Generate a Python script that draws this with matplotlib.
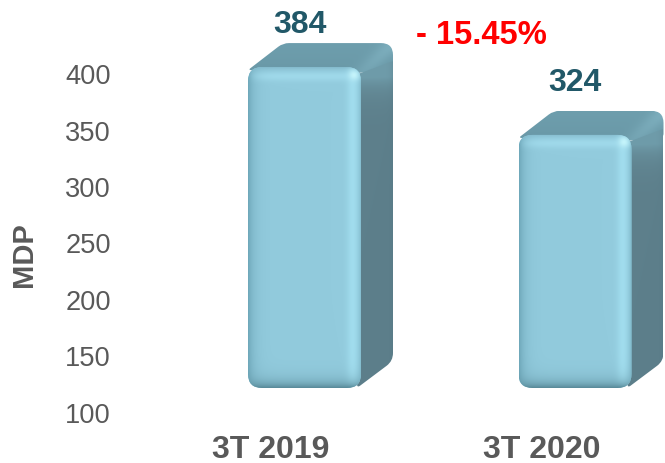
import numpy as np
import matplotlib
matplotlib.use("Agg")
import matplotlib.pyplot as plt
from matplotlib.path import Path
from matplotlib.patches import PathPatch
from matplotlib.transforms import ScaledTranslation
from matplotlib.colors import to_rgb

categories = ["3T 2019", "3T 2020"]
values = [384, 324]
y_ticks = [100, 150, 200, 250, 300, 350, 400]
y_label = "MDP"
change_label = "- 15.45%"

plt.rcParams["font.family"] = ["Liberation Sans", "DejaVu Sans"]
W, H, DPI = 665, 464, 100
fig = plt.figure(figsize=(W / DPI, H / DPI), dpi=DPI)
ax = fig.add_axes([118 / W, 51 / H, 547 / W, 413 / H])
XLIM = ((118 - 271) / 270.5, (665 - 271) / 270.5)
YLIM = (100, 100 + 413 / 1.13)
ax.set_xlim(*XLIM)
ax.set_ylim(*YLIM)
for s in ax.spines.values():
    s.set_visible(False)
GREY = "#595959"
ax.set_yticks(y_ticks)
ax.set_xticks(range(len(categories)))
ax.set_xticklabels(categories, fontsize=23, fontweight="bold", color=GREY)
ax.tick_params(axis="y", length=0, pad=5, labelsize=19.6, labelcolor=GREY)
ax.tick_params(axis="x", length=0, pad=16)
fig.text(24 / W, 1 - 255 / H, y_label, rotation=90, ha="center", va="center",
         fontsize=21, fontweight="bold", color=GREY)

FRONT_DX, FRONT_DY = 33.5, 24.0   # front face shift from the axis plane, px
DEPTH_X, DEPTH_Y = 32.0, 24.0     # oblique depth, px
BAR_W = 113 / 270.5
to_px = ax.transData.transform
to_data = ax.transData.inverted().transform


def rounded(pts, radii):
    """Closed path through pts (px) with rounded corners, returned in data coords."""
    pts = [np.array(p, float) for p in pts]
    n = len(pts)
    verts, codes = [], []
    for i, p in enumerate(pts):
        a, b = pts[i - 1], pts[(i + 1) % n]
        r = radii[i]
        ua = (a - p) / np.linalg.norm(a - p)
        ub = (b - p) / np.linalg.norm(b - p)
        start, end = p + ua * r, p + ub * r
        verts += [start, p, end]
        codes += [Path.LINETO if i else Path.MOVETO, Path.CURVE3, Path.CURVE3]
    verts.append(verts[0])
    codes.append(Path.CLOSEPOLY)
    return Path(to_data(np.array(verts)), codes)


def paint(clip, x0, x1, y0, y1, rgb, z):
    """Place a pixel-sampled RGB image over px box and clip it to a path."""
    (a, b), (c, d) = to_data([(x0, y0), (x1, y1)])
    im = ax.imshow(rgb, extent=[a, c, b, d], origin="lower", aspect="auto",
                   interpolation="bilinear", zorder=z)
    pp = PathPatch(clip, fc="none", ec="none", zorder=z)
    ax.add_patch(pp)
    im.set_clip_path(pp)


def mix(img, col, w):
    w = np.clip(w, 0, 1)[..., None]
    return img * (1 - w) + np.array(to_rgb(col)) * w


def front_shade(w, h):
    xs, ys = np.meshgrid(np.arange(w) + .5, np.arange(h) + .5)
    dl, dr, db, dt = xs, w - xs, ys, h - ys
    img = np.ones((h, w, 3)) * np.array(to_rgb("#92CBDD"))
    img = mix(img, "#A3DFF0", np.exp(-((dr - 9) / 6.0) ** 2) * .9)
    img = mix(img, "#A3DDEE", np.exp(-((dt - 9) / 5.0) ** 2) * .8)
    img = mix(img, "#6DA6B8", np.exp(-dl / 6.0) * 1.0)
    img = mix(img, "#5A8C9B", np.exp(-db / 6.5) * 1.1)
    img = mix(img, "#7FB4C6", np.exp(-dt / 2.5) * .8)
    img = mix(img, "#6FA8B9", np.exp(-dr / 2.0) * .8)
    # glint at the upper right corner
    img = mix(img, "#C4F4FB", np.exp(-(((dr - 8) / 5) ** 2 + ((dt - 8) / 5) ** 2)))
    return img


def top_shade(w, h):
    xs, ys = np.meshgrid(np.arange(w) + .5, np.arange(h) + .5)
    img = np.ones((h, w, 3)) * np.array(to_rgb("#6E9EAD"))
    # lighter ridge along the receding right edge
    ridge = (xs - (w - 33) - (ys / h) * 32) / 12
    img = mix(img, "#7FB1C0", np.exp(-(ridge - .2) ** 2) * .9)
    img = mix(img, "#628E9C", (1 - ys / h) * .35)
    return img


def side_shade(w, h):
    xs, ys = np.meshgrid(np.arange(w) + .5, np.arange(h) + .5)
    img = np.ones((h, w, 3)) * np.array(to_rgb("#5D7F8B"))
    img = mix(img, "#6F9CAA", np.exp(-np.maximum(h - ys - 24, 0) / 14.0))
    img = mix(img, "#4F727E", np.exp(-(w - xs) / 3.0) * .25)
    return img


xs = np.arange(len(categories))
front = ScaledTranslation(FRONT_DX / DPI, FRONT_DY / DPI, fig.dpi_scale_trans)
bars = ax.bar(xs, np.array(values) - 100, bottom=100, width=BAR_W,
              color="#92CBDD", zorder=3, transform=ax.transData + front)

for bar in bars:
    (x0, y0), (x1, y1) = to_px([(bar.get_x(), bar.get_y()),
                                (bar.get_x() + bar.get_width(), bar.get_y() + bar.get_height())])
    x0 += FRONT_DX; x1 += FRONT_DX; y0 += FRONT_DY; y1 += FRONT_DY
    bx, by = DEPTH_X, DEPTH_Y

    top = rounded([(x0, y1 - 3), (x0 + bx + 3, y1 + by), (x1 + bx, y1 + by), (x1 + bx, y1 + by - 26), (x1 - 4, y1 - 6)],
                  [3, 6, 12, 3, 2])
    paint(top, x0, x1 + bx, y1 - 6, y1 + by, top_shade(int(x1 - x0 + bx), int(by + 6)), 1)

    side = rounded([(x1 - 6, y1 - 8), (x1 + bx, y1 + by - 18), (x1 + bx, y0 + by + 3), (x1 - 4, y0)],
                   [1, 1, 8, 4])
    paint(side, x1 - 6, x1 + bx, y0, y1 + by - 10, side_shade(int(bx + 6), int(y1 + by - 10 - y0)), 2)

    body = rounded([(x0, y0), (x0, y1), (x1, y1), (x1, y0)], [14] * 4)
    clip = PathPatch(body, fc="none", ec="none", zorder=3)
    ax.add_patch(clip)
    bar.set_clip_path(clip)
    paint(body, x0, x1, y0, y1, front_shade(int(x1 - x0), int(y1 - y0)), 4)

ax.set_xlim(*XLIM)
ax.set_ylim(*YLIM)
ax.set_aspect("auto")

label_offsets = [(29, 67), (33, 77)]
for x, v, off in zip(xs, values, label_offsets):
    ax.annotate(str(v), (x, v), xytext=(off[0] * .72, off[1] * .72), textcoords="offset points",
                ha="center", va="center", fontsize=23, fontweight="bold", color="#215868", zorder=6)
fig.text(481.5 / W, 1 - 35 / H, change_label, ha="center", va="center",
         fontsize=23.6, fontweight="bold", color="#FF0000")

fig.savefig("out.png", dpi=DPI)
